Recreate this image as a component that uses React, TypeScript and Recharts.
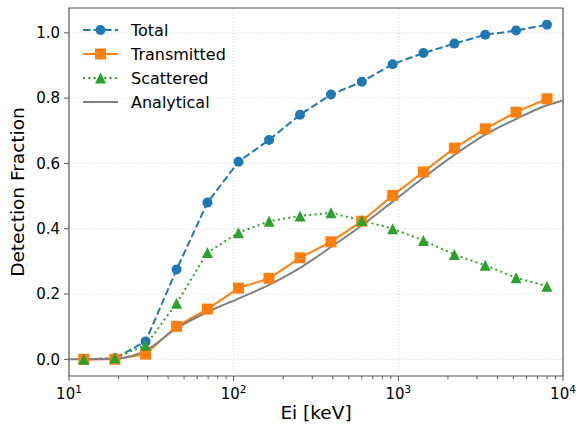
import {
  ComposedChart,
  Line,
  XAxis,
  YAxis,
  ReferenceLine,
  ReferenceArea,
  Legend,
} from "recharts";

// incident energies of the simulated points (keV)
const energies = [12.3, 19.0, 29.2, 45.0, 69.3, 107, 164, 253, 390, 600, 924, 1420, 2190, 3370, 5190, 7990];
const total = [0.0, 0.003, 0.055, 0.275, 0.48, 0.605, 0.672, 0.749, 0.811, 0.85, 0.904, 0.938, 0.967, 0.994, 1.007, 1.025];
const transmitted = [0.0, 0.0, 0.016, 0.101, 0.154, 0.218, 0.248, 0.311, 0.36, 0.423, 0.502, 0.574, 0.647, 0.706, 0.757, 0.798];
const scattered = [0.0, 0.004, 0.043, 0.172, 0.327, 0.388, 0.423, 0.439, 0.449, 0.425, 0.4, 0.364, 0.321, 0.288, 0.25, 0.224];

// analytical curve, own grid
const analyticalE = [10, 12.3, 19, 29.2, 45, 69.3, 107, 164, 253, 390, 600, 924, 1420, 2190, 3370, 5190, 7990, 10000];
const analytical = [0.0, 0.0, 0.002, 0.027, 0.095, 0.145, 0.186, 0.228, 0.28, 0.344, 0.41, 0.483, 0.556, 0.626, 0.688, 0.736, 0.778, 0.793];

const xMajorTicks = [10, 100, 1000, 10000];
const xMinorTicks = [20, 30, 40, 50, 60, 70, 80, 90, 200, 300, 400, 500, 600, 700, 800, 900, 2000, 3000, 4000, 5000, 6000, 7000, 8000, 9000];
const yTicks = [0, 0.2, 0.4, 0.6, 0.8, 1.0];
const xDomain = [10, 10000];
const yDomain = [-0.051, 1.076];

const seriesNames = ["Total", "Transmitted", "Scattered", "Analytical"];
const colors = ["#1f77b4", "#ff7f0e", "#2ca02c", "#808080"];

const measured = energies.map((e, i) => ({
  e,
  total: total[i],
  transmitted: transmitted[i],
  scattered: scattered[i],
}));
const analyticRows = analyticalE.map((e, i) => ({ e, analytical: analytical[i] }));

const FONT = "DejaVu Sans, sans-serif";
const AXIS = "#555";

function XTick(props: any) {
  const { x, y, payload } = props;
  const v = payload.value;
  const major = xMajorTicks.includes(v);
  return (
    <g>
      <line x1={x} x2={x} y1={y} y2={y + (major ? 5 : 3)} stroke={AXIS} strokeWidth={1} />
      {major && (
        <text x={x} y={y + 22.5} textAnchor="middle" fontSize={15} fontFamily={FONT} fill="#000">
          10
          <tspan dy={-6} fontSize={10.5}>
            {Math.round(Math.log10(v))}
          </tspan>
        </text>
      )}
    </g>
  );
}

function Square(props: any) {
  const { cx, cy, index } = props;
  return <rect key={index} x={cx - 5.5} y={cy - 5.5} width={11} height={11} fill={colors[1]} />;
}

function Triangle(props: any) {
  const { cx, cy, index } = props;
  return (
    <path
      key={index}
      d={`M${cx},${cy - 5.5} L${cx + 5.5},${cy + 5.5} L${cx - 5.5},${cy + 5.5} Z`}
      fill={colors[2]}
    />
  );
}

function LegendBox() {
  return (
    <svg width={160} height={110} style={{ display: "block" }}>
      {seriesNames.map((name, i) => {
        const cy = 16 + 24 * i;
        const c = colors[i];
        const dash = i === 0 ? "7.4 3.2" : i === 2 ? "2 3.3" : undefined;
        return (
          <g key={name}>
            <line x1={8} x2={43} y1={cy} y2={cy} stroke={c} strokeWidth={2} strokeDasharray={dash} />
            {i === 0 && <circle cx={25.5} cy={cy} r={5} fill={c} />}
            {i === 1 && <rect x={20} y={cy - 5.5} width={11} height={11} fill={c} />}
            {i === 2 && (
              <path d={`M25.5,${cy - 5.5} L31,${cy + 5.5} L20,${cy + 5.5} Z`} fill={c} />
            )}
            <text x={56} y={cy + 5.8} fontSize={16} fontFamily={FONT} fill="#000">
              {name}
            </text>
          </g>
        );
      })}
    </svg>
  );
}

export default function App() {
  return (
    <div style={{ position: "absolute", left: 0, top: 0, background: "#fff" }}>
      <ComposedChart width={576} height={425} margin={{ top: 8, right: 13, bottom: 0, left: 0 }}>
        <XAxis
          dataKey="e"
          type="number"
          scale="log"
          domain={xDomain}
          allowDataOverflow
          ticks={[...xMajorTicks, ...xMinorTicks]}
          interval={0}
          height={49}
          axisLine={false}
          tickLine={false}
          tickSize={0}
          tickMargin={0}
          tick={<XTick />}
          label={(p: any) => {
            const vb = p.viewBox;
            return (
              <text x={vb.x + vb.width / 2} y={419} textAnchor="middle" fontSize={18.5} fontFamily={FONT} fill="#000">
                Ei [keV]
              </text>
            );
          }}
        />
        <YAxis
          type="number"
          domain={yDomain}
          allowDataOverflow
          ticks={yTicks}
          width={69}
          axisLine={false}
          tickLine={{ stroke: AXIS }}
          tickSize={5}
          tickMargin={4}
          tickFormatter={(v: number) => v.toFixed(1)}
          tick={{ fontSize: 15, fill: "#000", fontFamily: FONT }}
          label={(p: any) => {
            const vb = p.viewBox;
            const cy = vb.y + vb.height / 2;
            return (
              <text
                transform={`translate(23.5,${cy}) rotate(-90)`}
                textAnchor="middle"
                fontSize={18.5}
                fontFamily={FONT}
                fill="#000"
              >
                Detection Fraction
              </text>
            );
          }}
        />
        {xMajorTicks.slice(1, 3).map((t) => (
          <ReferenceLine key={"gx" + t} x={t} stroke="#c8c8c8" strokeWidth={0.8} strokeDasharray="1 2" />
        ))}
        {yTicks.map((t) => (
          <ReferenceLine key={"gy" + t} y={t} stroke="#c8c8c8" strokeWidth={0.8} strokeDasharray="1 2" />
        ))}
        <ReferenceArea
          x1={xDomain[0]}
          x2={xDomain[1]}
          y1={yDomain[0]}
          y2={yDomain[1]}
          fill="none"
          fillOpacity={0}
          stroke={AXIS}
          strokeWidth={1.2}
        />
        <Line
          data={measured}
          dataKey="total"
          name="Total"
          stroke={colors[0]}
          strokeWidth={2}
          strokeDasharray="7.4 3.2"
          dot={{ r: 5, fill: colors[0], stroke: colors[0], strokeWidth: 0 }}
          isAnimationActive={false}
        />
        <Line
          data={measured}
          dataKey="transmitted"
          name="Transmitted"
          stroke={colors[1]}
          strokeWidth={2}
          dot={<Square />}
          isAnimationActive={false}
        />
        <Line
          data={measured}
          dataKey="scattered"
          name="Scattered"
          stroke={colors[2]}
          strokeWidth={2}
          strokeDasharray="2 3.3"
          dot={<Triangle />}
          isAnimationActive={false}
        />
        <Line
          data={analyticRows}
          dataKey="analytical"
          name="Analytical"
          type="monotone"
          stroke={colors[3]}
          strokeWidth={2}
          dot={false}
          isAnimationActive={false}
        />
        <Legend
          layout="horizontal"
          verticalAlign="middle"
          align="center"
          wrapperStyle={{ left: 75, top: 14, width: 160, height: 110 }}
          content={() => <LegendBox />}
        />
      </ComposedChart>
    </div>
  );
}
